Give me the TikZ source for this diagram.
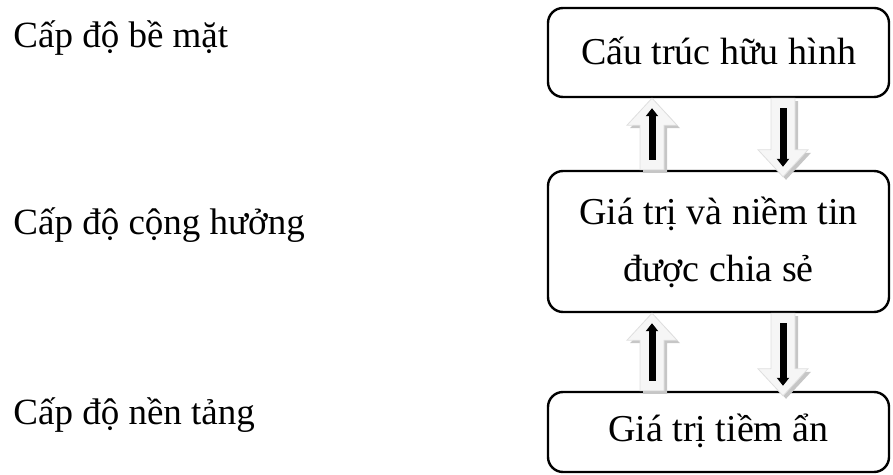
\documentclass[tikz,border=0pt]{standalone}
\usepackage{fontspec}
\setmainfont{Liberation Serif}
\usepackage{tikz}
\usetikzlibrary{calc,arrows.meta}

\tikzset{
  level/.style={anchor=base west, inner sep=0pt, font=\fontsize{18.5pt}{28.5pt}\selectfont},
  box/.style={draw, line width=1.2pt, rounded corners=7.5pt, minimum width=170.5pt,
    align=center, text depth=0pt, font=\fontsize{19pt}{28.5pt}\selectfont},
  arrowshadow/.style={fill=gray!45},
  arrowbody/.style={fill=gray!7, draw=gray!25, line width=0.4pt},
}

% block arrow: #1 style, #2 tail, #3 tip, #4 offset
\newcommand{\arrowpath}[4]{%
  \path[#1] let \p1=(#2), \p2=(#3), \p3=($(#3)!13.5pt!(#2)$) in
    (\x1-6pt+#4,\y1-#4) -- (\x1-6pt+#4,\y3-#4) -- (\x1-12.5pt+#4,\y3-#4)
    -- (\x2+#4,\y2-#4) -- (\x1+12.5pt+#4,\y3-#4) -- (\x1+6pt+#4,\y3-#4)
    -- (\x1+6pt+#4,\y1-#4) -- cycle;}
\newcommand{\blockarrow}[2]{%
  \arrowpath{arrowshadow}{#1}{#2}{1.5pt}
  \arrowpath{arrowbody}{#1}{#2}{0pt}
  \draw[line width=3.5pt, -{Triangle[length=4pt,width=6pt]}]
    ($(#1)!5pt!(#2)$) -- ($(#2)!5pt!(#1)$);}

\begin{document}
\begin{tikzpicture}[x=0.5pt, y=-0.5pt]
    \useasboundingbox (0,0) rectangle (893,475);

    % levels
    \node[level] (surface) at (13,48) {Cấp độ bề mặt};
    \node[level] (resonance) at (13,235) {Cấp độ cộng hưởng};
    \node[level] (base) at (13,424) {Cấp độ nền tảng};

    % boxes
    \node[box, minimum height=44.5pt, text height=12.5pt] (visible) at (718.5,52.5) {Cấu trúc hữu hình};
    \node[box, minimum height=70.5pt, text height=40.5pt] (shared) at (718.5,241.5) {Giá trị và niềm tin\\được chia sẻ};
    \node[box, minimum height=40pt, text height=9pt] (hidden) at (718.5,432) {Giá trị tiềm ẩn};

    \coordinate (upx) at (652,0);
    \coordinate (downx) at (783,0);
    \coordinate (tipa) at ($(shared.north -| downx)+(0,7)$);
    \coordinate (tipb) at ($(hidden.north -| downx)+(0,5)$);

    % arrows
    \blockarrow{shared.north -| upx}{visible.south -| upx}
    \blockarrow{visible.south -| downx}{tipa}
    \blockarrow{hidden.north -| upx}{shared.south -| upx}
    \blockarrow{shared.south -| downx}{tipb}

\end{tikzpicture}
\end{document}
